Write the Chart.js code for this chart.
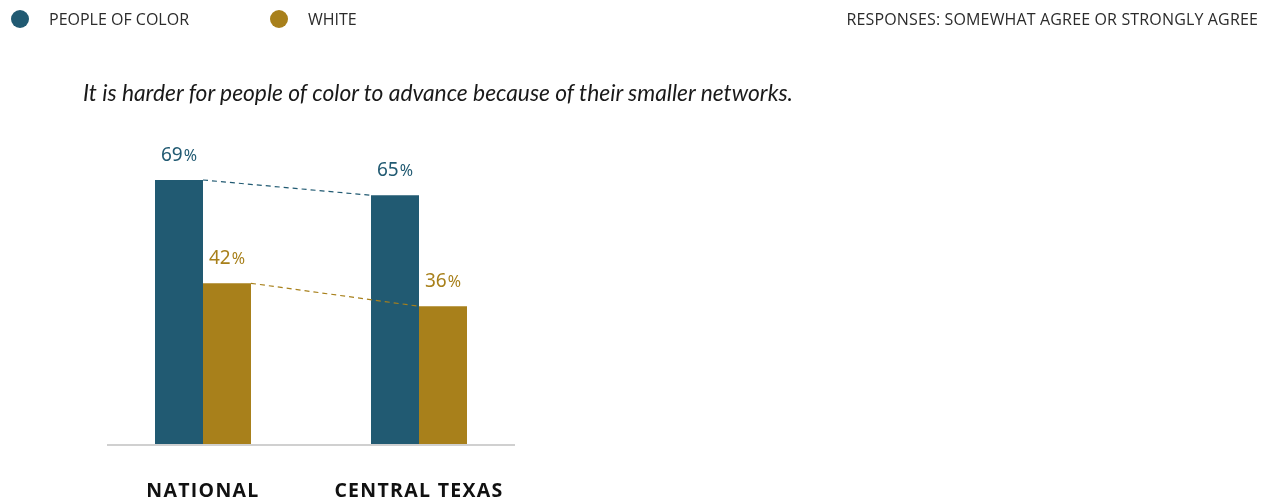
<!DOCTYPE html>
<html>
<head>
<meta charset="utf-8">
<script src="https://cdn.jsdelivr.net/npm/chart.js@4"></script>
<style>
  html, body { margin: 0; padding: 0; background: #fff; }
  #wrap { position: relative; width: 1270px; height: 502px; overflow: hidden; }
  #chart { position: absolute; left: 0; top: 0; }
  .legend { position: absolute; top: 8px; left: 11px; font-family: 'Open Sans', sans-serif; font-size: 16px; color: #2b2b2b; }
  .legend span.item { position: absolute; white-space: nowrap; top: 0; }
  .legend i { display: inline-block; width: 18px; height: 18px; border-radius: 50%; vertical-align: middle; margin-right: 20px; position: relative; top: -2px; }
  .note { position: absolute; top: 8px; right: 12px; font-family: 'Open Sans', sans-serif; font-size: 16px; letter-spacing: 0.15px; color: #2b2b2b; white-space: nowrap; }
  .title { position: absolute; top: 78px; left: 83px; font-family: Lato, sans-serif; font-style: italic; font-size: 22.8px; color: #1a1a1a; white-space: nowrap; }
</style>
</head>
<body>
<div id="wrap">
  <canvas id="chart" width="1270" height="502"></canvas>
  <div class="legend">
    <span class="item" style="left:0"><i style="background:#215a72"></i>PEOPLE OF COLOR</span>
    <span class="item" style="left:259px"><i style="background:#a8801b"></i>WHITE</span>
  </div>
  <div class="note">RESPONSES: SOMEWHAT AGREE OR STRONGLY AGREE</div>
  <div class="title">It is harder for people of color to advance because of their smaller networks.</div>
</div>
<script>
const categories = ['NATIONAL', 'CENTRAL TEXAS'];
const peopleOfColor = [69, 65];
const white = [42, 36];

const TEAL = '#215a72';
const GOLD = '#a8801b';

// value labels, dashed connectors, baseline and category names
const decorations = {
  id: 'decorations',
  afterDatasetsDraw(chart) {
    const { ctx, chartArea, scales } = chart;
    ctx.save();

    // baseline
    ctx.strokeStyle = '#d0d0d0';
    ctx.lineWidth = 2;
    ctx.beginPath();
    ctx.moveTo(chartArea.left + 12, chartArea.bottom + 1);
    ctx.lineTo(chartArea.right - 12, chartArea.bottom + 1);
    ctx.stroke();

    chart.data.datasets.forEach((ds, di) => {
      const bars = chart.getDatasetMeta(di).data;
      const color = ds.backgroundColor;

      // dashed line from the right corner of the first bar to the left corner of the second
      const a = bars[0], b = bars[1];
      ctx.strokeStyle = color;
      ctx.lineWidth = 1.2;
      ctx.setLineDash([5, 4]);
      ctx.beginPath();
      ctx.moveTo(a.x + a.width / 2, a.y);
      ctx.lineTo(b.x - b.width / 2, b.y);
      ctx.stroke();
      ctx.setLineDash([]);

      // value text, percent sign a bit smaller
      bars.forEach((bar, i) => {
        const num = String(ds.data[i]);
        ctx.font = '19px "Noto Sans", sans-serif';
        const wNum = ctx.measureText(num).width;
        ctx.font = '16px "Noto Sans", sans-serif';
        const wPct = ctx.measureText('%').width;
        const x0 = bar.x - (wNum + wPct + 1) / 2;
        const y = bar.y - 19;
        ctx.fillStyle = color;
        ctx.textBaseline = 'alphabetic';
        ctx.textAlign = 'left';
        ctx.font = '19px "Noto Sans", sans-serif';
        ctx.fillText(num, x0, y);
        ctx.font = '16px "Noto Sans", sans-serif';
        ctx.fillText('%', x0 + wNum + 1, y);
      });
    });

    // category names under the baseline
    ctx.fillStyle = '#111';
    ctx.font = 'bold 19.5px "Open Sans", sans-serif';
    ctx.textAlign = 'center';
    ctx.textBaseline = 'alphabetic';
    ctx.letterSpacing = '1.3px';
    chart.data.labels.forEach((label, i) => {
      ctx.fillText(label, scales.x.getPixelForTick(i), chartArea.bottom + 53);
    });
    ctx.restore();
  }
};

new Chart(document.getElementById('chart'), {
  type: 'bar',
  data: {
    labels: categories,
    datasets: [
      { label: 'People of color', data: peopleOfColor, backgroundColor: TEAL },
      { label: 'White', data: white, backgroundColor: GOLD }
    ]
  },
  options: {
    responsive: false,
    animation: false,
    layout: { padding: { left: 95, right: 743, top: 61.4, bottom: 58 } },
    datasets: {
      bar: { categoryPercentage: 96 / 216, barPercentage: 1, borderWidth: 0 }
    },
    scales: {
      x: { display: false },
      y: { display: false, min: 0, max: 100 }
    },
    plugins: {
      legend: { display: false },
      tooltip: { enabled: false }
    }
  },
  plugins: [decorations]
});
</script>
</body>
</html>
